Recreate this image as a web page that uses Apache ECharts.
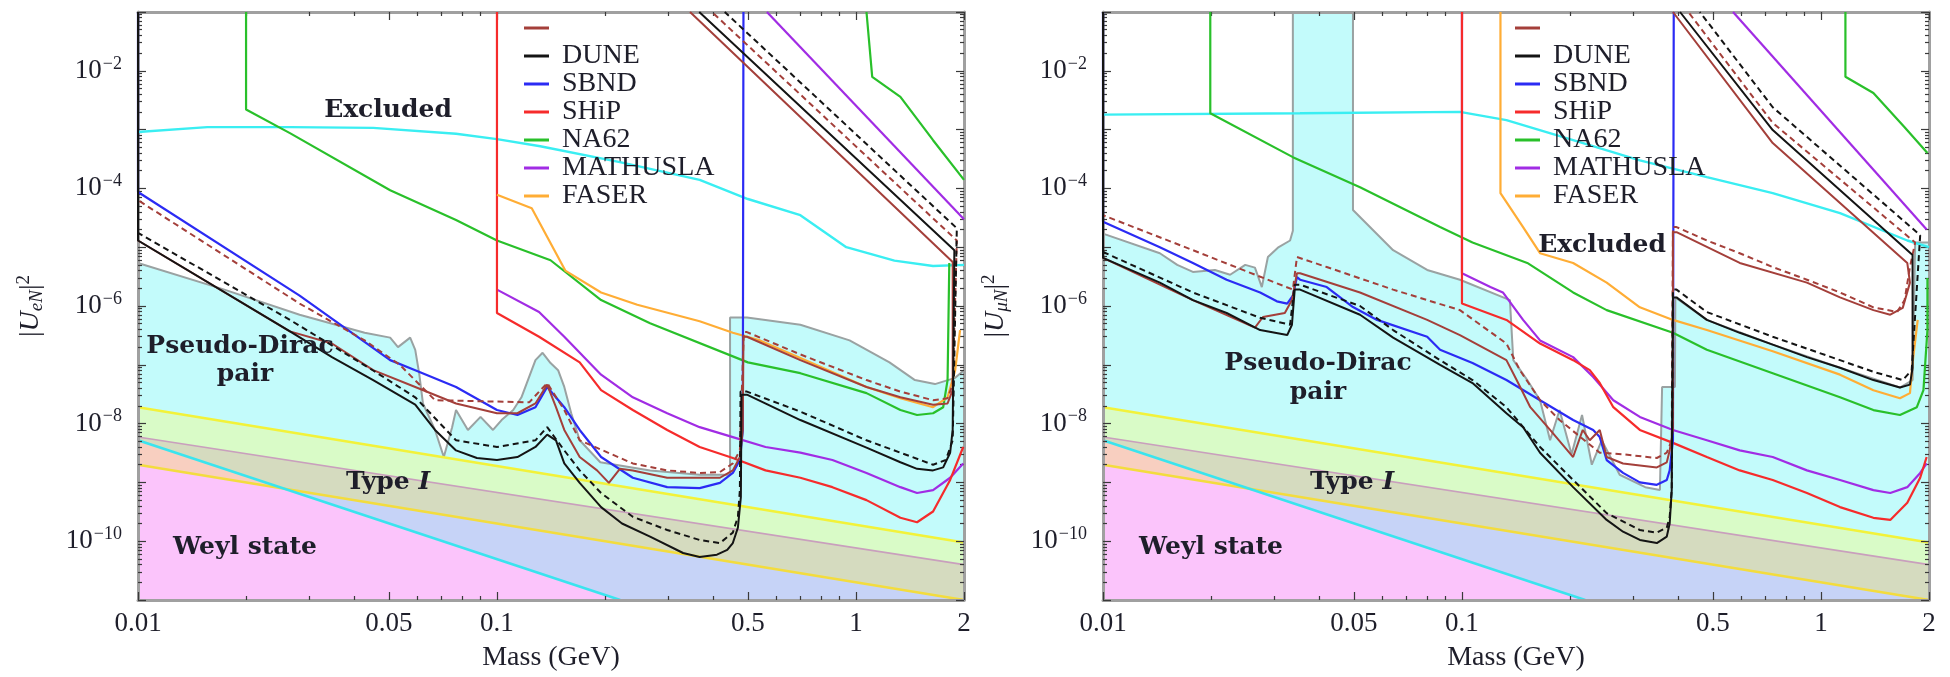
<!DOCTYPE html>
<html><head><meta charset="utf-8">
<script src="https://cdn.jsdelivr.net/npm/echarts@6/dist/echarts.min.js"></script>
<style>html,body{margin:0;padding:0;background:#fff;}#c{width:1950px;height:677px;}</style>
</head><body><div id="c"></div>
<script>
// ---------- tick labels ----------
const xTickValues = [0.01, 0.05, 0.1, 0.5, 1, 2];
const xTickLabels = ['0.01', '0.05', '0.1', '0.5', '1', '2'];
const xMinorValues = [0.02,0.03,0.04,0.06,0.07,0.08,0.09,0.2,0.3,0.4,0.6,0.7,0.8,0.9];
const yLabelExponents = [-10, -8, -6, -4, -2];
const yDecadeExponents = [-11,-10,-9,-8,-7,-6,-5,-4,-3,-2,-1];
const legendNames = ['DUNE2', 'DUNE', 'SBND', 'SHiP', 'NA62', 'MATHUSLA', 'FASER'];

// ---------- theory bands (same in both panels) ----------
const typeIUpper = [[0.01, 1.9e-8], [2, 9.5e-11]];
const typeIMid = [[0.01, 5.9e-9], [2, 4e-11]];
const typeILower = [[0.01, 2e-9], [2, 1e-11]];
const weylLine = [[0.01, 5.2e-9], [0.2205, 1e-11]];
const weylRegion = [[0.01, 2e-9], [0.0247, 8.3e-10], [0.2205, 1e-11]];

// ---------- left panel |U_eN|^2 ----------
const L_grey = [[0.01,5.4e-6],[0.0174,1.9e-6],[0.0282,7.1e-7],[0.0428,3.5e-7],[0.0504,2.9e-7],[0.053,2e-7],[0.0573,2.9e-7],[0.0592,1.8e-7],[0.0607,7.2e-8],[0.0622,2.2e-8],[0.0672,7.8e-9],[0.0711,2.7e-9],[0.075,8.7e-9],[0.0769,1.7e-8],[0.083,7.8e-9],[0.09,1.3e-8],[0.0975,7.8e-9],[0.103,1.15e-8],[0.111,1.7e-8],[0.117,2.8e-8],[0.128,1.2e-7],[0.134,1.6e-7],[0.141,1.07e-7],[0.148,8.1e-8],[0.154,4.2e-8],[0.161,1.5e-8],[0.170,5.2e-9],[0.194,2.2e-9],[0.267,1.6e-9],[0.367,1.35e-9],[0.446,1.35e-9],[0.446,6.4e-7],[0.497,6.4e-7],[0.70,4.8e-7],[0.96,2.6e-7],[1.24,1.1e-7],[1.46,5.5e-8],[1.66,4.7e-8],[1.89,6e-8],[2,8.1e-8]];
const L_SBND = [[0.01,0.1],[0.01,8.7e-5],[0.0282,1.5e-6],[0.0504,1.2e-7],[0.0592,8.1e-8],[0.0769,4.2e-8],[0.1,1.7e-8],[0.114,1.4e-8],[0.128,1.9e-8],[0.138,4.2e-8],[0.154,1.9e-8],[0.170,7.8e-9],[0.195,2.7e-9],[0.239,1.2e-9],[0.298,8.3e-10],[0.367,8e-10],[0.418,9.8e-10],[0.454,1.45e-9],[0.475,2.4e-9],[0.484,7.8e-9],[0.486,0.1]];
const L_DUNE_black = [[0.01,0.1],[0.01,1.3e-5],[0.0265,3.7e-7],[0.0347,1.35e-7],[0.0452,5.5e-8],[0.0592,2.1e-8],[0.0672,7.8e-9],[0.0769,3.5e-9],[0.0879,2.6e-9],[0.1,2.4e-9],[0.114,2.7e-9],[0.128,4e-9],[0.138,6.5e-9],[0.146,5.2e-9],[0.154,2.1e-9],[0.170,9.8e-10],[0.195,3.8e-10],[0.223,2e-10],[0.267,1.2e-10],[0.33,6.3e-11],[0.367,5.4e-11],[0.41,5.9e-11],[0.438,7.1e-11],[0.454,9.3e-11],[0.469,1.7e-10],[0.478,5.6e-10],[0.48,3.1e-8],[0.497,3.1e-8],[0.70,1.15e-8],[1.07,3.9e-9],[1.33,2.2e-9],[1.48,1.7e-9],[1.64,1.6e-9],[1.75,1.8e-9],[1.83,3.2e-9],[1.86,7.8e-9],[1.88,8.9e-6],[0.366,0.1]];
const L_DUNE_blackDash = [[0.01,0.1],[0.01,1.75e-5],[0.0265,5.8e-7],[0.0452,8e-8],[0.0592,2.8e-8],[0.0769,5.2e-9],[0.1,4e-9],[0.128,5.2e-9],[0.138,8.7e-9],[0.154,3.5e-9],[0.170,1.6e-9],[0.195,6.6e-10],[0.239,2.6e-10],[0.298,1.55e-10],[0.367,1.05e-10],[0.418,9.3e-11],[0.454,1.4e-10],[0.469,2.6e-10],[0.475,7.4e-10],[0.477,3.5e-8],[0.497,3.5e-8],[0.70,1.6e-8],[1.07,5.2e-9],[1.33,3.2e-9],[1.64,2e-9],[1.78,2.4e-9],[1.86,5.2e-9],[1.91,2.1e-5],[0.431,0.1]];
const L_DUNE_brown = [[0.01,0.1],[0.01,1.3e-5],[0.0265,3.7e-7],[0.0347,2.3e-7],[0.0452,8.1e-8],[0.0592,4.2e-8],[0.0769,2.2e-8],[0.1,1.5e-8],[0.114,1.5e-8],[0.128,2.2e-8],[0.138,4.6e-8],[0.146,1.9e-8],[0.154,7.8e-9],[0.170,2.7e-9],[0.190,1.6e-9],[0.205,9.8e-10],[0.22,1.7e-9],[0.239,1.6e-9],[0.298,1.2e-9],[0.367,1.2e-9],[0.418,1.2e-9],[0.454,1.6e-9],[0.475,2.7e-9],[0.484,7.8e-9],[0.486,3e-7],[0.497,3e-7],[0.70,1.2e-7],[1.07,4.2e-8],[1.33,2.8e-8],[1.64,2.1e-8],[1.80,2.2e-8],[1.86,3.7e-8],[1.86,5.6e-6],[0.345,0.1]];
const L_DUNE_brownDash = [[0.01,0.1],[0.01,6.3e-5],[0.0282,1.1e-6],[0.0428,2.6e-7],[0.0536,1e-7],[0.0672,2.5e-8],[0.123,2.3e-8],[0.138,4.9e-8],[0.154,1.7e-8],[0.170,5.2e-9],[0.239,2.1e-9],[0.298,1.6e-9],[0.367,1.45e-9],[0.418,1.5e-9],[0.454,2.1e-9],[0.475,3.5e-9],[0.487,3.6e-7],[0.497,3.6e-7],[0.70,1.5e-7],[1.07,5.5e-8],[1.33,3.5e-8],[1.64,2.5e-8],[1.80,2.7e-8],[1.86,4.6e-8],[1.91,1.3e-5],[0.397,0.1]];
const L_FASER = [[0.1,7.8e-5],[0.125,4.6e-5],[0.155,4e-6],[0.195,1.7e-6],[0.246,1.05e-6],[0.367,5.5e-7],[0.454,3.5e-7],[0.54,2.6e-7],[0.70,1.3e-7],[1.07,4.2e-8],[1.33,2.7e-8],[1.64,1.9e-8],[1.80,2.8e-8],[1.89,8.1e-8],[1.95,3.9e-7]];
const L_NA62 = [[0.02,0.1],[0.02,2.2e-3],[0.0265,8.7e-4],[0.0504,9.3e-5],[0.0769,2.9e-5],[0.1,1.3e-5],[0.141,6e-6],[0.195,1.26e-6],[0.267,5.1e-7],[0.50,1.1e-7],[0.70,7.2e-8],[1.07,3.3e-8],[1.33,1.7e-8],[1.48,1.4e-8],[1.64,1.5e-8],[1.75,1.9e-8],[1.80,5.5e-8],[1.82,5.4e-6]];
const L_NA62_upper = [[1.07,0.1],[1.11,7.9e-3],[1.33,3.6e-3],[1.64,6.6e-4],[2,1.4e-4]];
const L_SHiP = [[0.1,0.1],[0.1,7.6e-7],[0.131,3e-7],[0.170,1.1e-7],[0.195,3.7e-8],[0.239,1.7e-8],[0.298,7.8e-9],[0.367,4e-9],[0.454,2.6e-9],[0.56,1.6e-9],[0.70,1.2e-9],[0.86,8.3e-10],[1.07,5e-10],[1.33,2.5e-10],[1.48,2.1e-10],[1.64,3.2e-10],[1.83,1.1e-9],[1.99,4e-9]];
const L_MATHUSLA = [[0.1,1.9e-6],[0.131,7.9e-7],[0.154,3e-7],[0.195,6.8e-8],[0.239,2.8e-8],[0.298,1.5e-8],[0.367,8.7e-9],[0.454,5.9e-9],[0.56,4e-9],[0.70,3.2e-9],[0.86,2.4e-9],[1.07,1.45e-9],[1.33,8.3e-10],[1.48,6.6e-10],[1.64,7.4e-10],[1.83,1.2e-9],[1.99,2.1e-9]];
const L_MATHUSLA_upper = [[0.565,0.1],[2,3e-5]];
const L_BBN = [[0.01,9.1e-4],[0.0156,1.1e-3],[0.0265,1.1e-3],[0.0452,1.07e-3],[0.0769,8.5e-4],[0.1,6.9e-4],[0.132,5.2e-4],[0.22,2.8e-4],[0.367,1.4e-4],[0.5,6.6e-5],[0.7,3.5e-5],[0.94,1e-5],[1.28,5.9e-6],[1.64,4.8e-6],[2,5e-6]];

// ---------- right panel |U_muN|^2 ----------
const R_grey = [[0.01,1.7e-5],[0.0144,7.9e-6],[0.0161,5e-6],[0.0178,3.8e-6],[0.0205,4.1e-6],[0.0226,3.4e-6],[0.0249,5e-6],[0.0265,4.5e-6],[0.0277,2.1e-6],[0.0288,6.8e-6],[0.0307,9.8e-6],[0.0332,1.3e-5],[0.0338,1.9e-5],[0.0338,0.1],[0.0497,0.1],[0.0497,4.3e-5],[0.0643,8.9e-6],[0.080,4.1e-6],[0.0987,2.8e-6],[0.136,1.26e-6],[0.139,1.2e-7],[0.152,5.5e-8],[0.165,2.5e-8],[0.176,5.2e-9],[0.187,1.7e-8],[0.202,3e-9],[0.216,1.4e-8],[0.23,2e-9],[0.245,5.2e-9],[0.275,1.35e-9],[0.324,8.3e-10],[0.356,7.4e-10],[0.361,4.2e-8],[0.392,4.2e-8],[0.393,1.4e-6],[0.481,5.8e-7],[0.734,2.2e-7],[1.13,8.9e-8],[1.66,4.1e-8],[1.80,5.5e-8],[1.83,1.2e-5],[2,1.2e-5]];
const R_SBND = [[0.01,0.1],[0.01,2.7e-5],[0.0144,1e-5],[0.0178,5.4e-6],[0.0221,2.8e-6],[0.0274,1.7e-6],[0.0305,1.2e-6],[0.0326,1.1e-6],[0.0338,1.5e-6],[0.0347,3.1e-6],[0.0354,2.8e-6],[0.042,2.1e-6],[0.0497,9.6e-7],[0.058,5.8e-7],[0.080,3e-7],[0.0869,1.8e-7],[0.107,1.07e-7],[0.133,5.5e-8],[0.165,2.5e-8],[0.204,1.15e-8],[0.232,7.8e-9],[0.242,5.9e-9],[0.253,2.4e-9],[0.281,1.45e-9],[0.313,1e-9],[0.349,9.1e-10],[0.372,1.1e-9],[0.379,1.6e-9],[0.387,5.2e-9],[0.389,0.1]];
const R_DUNE_black = [[0.01,0.1],[0.01,6.6e-6],[0.0144,2.5e-6],[0.0178,1.26e-6],[0.0221,7.6e-7],[0.0274,3.9e-7],[0.0326,3.2e-7],[0.0336,4.8e-7],[0.0342,1.9e-6],[0.0354,1.9e-6],[0.052,7.1e-7],[0.0643,2.9e-7],[0.0869,1e-7],[0.107,4.9e-8],[0.133,1.5e-8],[0.148,8.7e-9],[0.165,3.2e-9],[0.204,8.3e-10],[0.253,2.3e-10],[0.281,1.45e-10],[0.313,1.05e-10],[0.349,9.3e-11],[0.372,1.2e-10],[0.379,2e-10],[0.384,7.4e-10],[0.387,1.4e-6],[0.396,1.4e-6],[0.481,5.8e-7],[0.594,3.5e-7],[0.734,2.2e-7],[0.914,1.35e-7],[1.13,8.9e-8],[1.40,5.5e-8],[1.66,4.1e-8],[1.77,4.6e-8],[1.80,8.9e-8],[1.80,7.4e-6],[0.734,9.8e-4],[0.405,0.1]];
const R_DUNE_blackDash = [[0.01,0.1],[0.01,8.3e-6],[0.0178,1.7e-6],[0.0274,6.3e-7],[0.0332,4.8e-7],[0.0342,2.3e-6],[0.0354,2.3e-6],[0.052,1e-6],[0.0643,3.9e-7],[0.0869,1.2e-7],[0.107,5.5e-8],[0.133,1.9e-8],[0.165,4e-9],[0.204,1.1e-9],[0.253,3e-10],[0.313,1.55e-10],[0.349,1.4e-10],[0.372,1.7e-10],[0.379,2.6e-10],[0.384,7.4e-10],[0.387,1.9e-6],[0.396,1.9e-6],[0.481,7.9e-7],[0.734,3e-7],[1.13,1.2e-7],[1.40,7.6e-8],[1.69,5.5e-8],[1.79,8.1e-8],[1.89,1.6e-5],[0.734,2.4e-3],[0.46,0.1]];
const R_DUNE_brown = [[0.01,0.1],[0.01,6.6e-6],[0.0178,1.26e-6],[0.0265,4.3e-7],[0.0279,6.5e-7],[0.0321,7.6e-7],[0.0336,1.26e-6],[0.0347,3.6e-6],[0.0354,3.6e-6],[0.052,1.7e-6],[0.080,5.8e-7],[0.0987,3.2e-7],[0.133,1.2e-7],[0.142,5.5e-8],[0.155,1.9e-8],[0.176,7.8e-9],[0.204,2.7e-9],[0.217,7.8e-9],[0.227,5.2e-9],[0.242,7.8e-9],[0.253,2.7e-9],[0.281,2.1e-9],[0.349,1.8e-9],[0.372,2.2e-9],[0.379,3.5e-9],[0.387,7.8e-9],[0.387,1.8e-5],[0.396,1.8e-5],[0.594,5.4e-6],[0.914,2.5e-6],[1.13,1.4e-6],[1.40,8.5e-7],[1.56,7.1e-7],[1.69,9.3e-7],[1.77,2.5e-6],[1.74,5.4e-6],[0.734,5.9e-4],[0.387,0.1]];
const R_DUNE_brownDash = [[0.01,0.1],[0.01,3.5e-5],[0.0178,8.9e-6],[0.0338,1.9e-6],[0.0347,6.8e-6],[0.042,4.6e-6],[0.0643,1.9e-6],[0.0987,8.5e-7],[0.133,2.3e-7],[0.145,8.1e-8],[0.165,2.5e-8],[0.187,1.15e-8],[0.242,3.2e-9],[0.281,3e-9],[0.349,2.6e-9],[0.372,3.2e-9],[0.384,5.2e-9],[0.387,2.2e-5],[0.396,2.2e-5],[0.481,1.3e-5],[0.594,7.9e-6],[0.734,4.6e-6],[0.914,2.8e-6],[1.13,1.7e-6],[1.40,9.5e-7],[1.63,7.9e-7],[1.71,1.26e-6],[1.77,4.6e-6],[1.83,1.2e-5],[0.734,1.3e-3],[0.427,0.1]];
const R_FASER = [[0.128,0.1],[0.128,8.3e-5],[0.148,2.2e-5],[0.165,7.9e-6],[0.204,5.4e-6],[0.253,2.5e-6],[0.313,9.5e-7],[0.387,5.8e-7],[0.481,3.9e-7],[0.734,1.7e-7],[1.13,6.8e-8],[1.40,3.7e-8],[1.66,2.7e-8],[1.77,3.3e-8],[1.80,1.07e-7],[1.86,5.8e-7]];
const R_NA62 = [[0.0199,0.1],[0.0199,1.9e-3],[0.0338,3.4e-4],[0.052,1.05e-4],[0.0869,2.2e-5],[0.107,1.2e-5],[0.152,5.4e-6],[0.204,1.7e-6],[0.253,8.5e-7],[0.387,3.5e-7],[0.481,1.8e-7],[0.734,7.2e-8],[1.13,2.8e-8],[1.40,1.7e-8],[1.66,1.4e-8],[1.85,1.9e-8],[1.93,3.7e-8],[1.98,3.9e-7],[1.98,3e-6]];
const R_NA62_upper = [[1.17,0.1],[1.17,7.9e-3],[1.40,4.2e-3],[1.71,1.1e-3],[1.98,4e-4]];
const R_SHiP = [[0.1,0.1],[0.1,1.1e-6],[0.133,5.8e-7],[0.165,2.3e-7],[0.204,1.2e-7],[0.227,8.1e-8],[0.242,4.9e-8],[0.264,1.9e-8],[0.313,7.8e-9],[0.387,4.7e-9],[0.481,2.7e-9],[0.594,1.6e-9],[0.734,1.1e-9],[0.914,6.6e-10],[1.13,3.8e-10],[1.40,2.5e-10],[1.56,2.3e-10],[1.74,4.5e-10],[1.89,1.2e-9],[1.97,2.7e-9]];
const R_MATHUSLA = [[0.1,0.1],[0.1,3.6e-6],[0.12,2.1e-6],[0.13,1.7e-6],[0.148,5.8e-7],[0.165,2.6e-7],[0.204,1.35e-7],[0.232,6.2e-8],[0.264,2.5e-8],[0.313,1.3e-8],[0.387,7.8e-9],[0.481,5.2e-9],[0.594,3.5e-9],[0.734,2.7e-9],[0.914,1.6e-9],[1.13,1.1e-9],[1.40,7.4e-10],[1.56,6.6e-10],[1.74,8.3e-10],[1.89,1.45e-9],[1.97,2.1e-9]];
const R_MATHUSLA_upper = [[0.569,0.1],[1.97,2e-5]];
const R_BBN = [[0.01,1.8e-3],[0.0354,1.9e-3],[0.0987,2e-3],[0.133,1.45e-3],[0.204,6.6e-4],[0.313,3e-4],[0.481,1.55e-4],[0.734,8.3e-5],[1.13,3.8e-5],[1.74,1.3e-5],[2,1e-5]];

// ---------- styles ----------
const C = {
  black:'#141414', brown:'#a43f3a', blue:'#2b2bf4', red:'#f62b2b', green:'#29c02a',
  purple:'#a12ce4', orange:'#ffad35', bbn:'#3aeef2', grey:'#9aa2a2',
  fillCyan:'#c3fbfb', fillGreen:'#d9fbc7', fillKhaki:'#d5dbbf', fillLav:'#c6d3f7',
  fillSalmon:'#f8cfc0', fillPink:'#fbc4fb', yel:'#f2f23a', yel2:'#f3dc3e', mauve:'#c99fbd', weyl:'#3ae4ee'
};
const SERIF = 'Liberation Serif';
const BOLDSERIF = 'DejaVu Serif';
const TXT = '#1e1e2a';
const LOG2 = Math.log10(2);

function line(p, name, data, color, width, dash, z) {
  return {
    type:'line', name: name, xAxisIndex: p*5, yAxisIndex: p*5, data: data,
    color: color, showSymbol:false, symbol:'none', silent:true, z: z || 4,
    lineStyle:{color: color, width: width || 2.2, type: dash ? [6,4] : 'solid'},
    emphasis:{disabled:true}
  };
}
function fill(p, data, color, lineColor, lineWidth) {
  return {
    type:'line', xAxisIndex: p*5, yAxisIndex: p*5, data: data, showSymbol:false, symbol:'none',
    silent:true, z:1, color: color,
    lineStyle:{width: lineWidth || 0, color: lineColor || color},
    areaStyle:{color: color, opacity:1, origin:'start'}, emphasis:{disabled:true}
  };
}

function panelSeries(p, d) {
  return [
    fill(p, d.grey, C.fillCyan, C.grey, 2),
    fill(p, typeIUpper, C.fillGreen),
    fill(p, typeIMid, C.fillKhaki),
    fill(p, typeILower, C.fillLav),
    fill(p, weylLine, C.fillSalmon),
    fill(p, weylRegion, C.fillPink),
    line(p, 'typeIUpper', typeIUpper, C.yel, 2.5, false, 2),
    line(p, 'typeIMid', typeIMid, C.mauve, 1.6, false, 2),
    line(p, 'typeILower', typeILower, C.yel2, 2.5, false, 2),
    line(p, 'weyl', weylLine, C.weyl, 2.5, false, 2),
    line(p, 'BBN', d.bbn, C.bbn, 2.4),
    line(p, 'NA62', d.na62, C.green),
    line(p, 'NA62', d.na62u, C.green),
    line(p, 'MATHUSLA', d.math, C.purple),
    line(p, 'MATHUSLA', d.mathu, C.purple),
    line(p, 'SHiP', d.ship, C.red),
    line(p, 'FASER', d.faser, C.orange),
    line(p, 'SBND', d.sbnd, C.blue),
    line(p, 'DUNE2', d.brown, C.brown, 2),
    line(p, 'DUNE2', d.brownDash, C.brown, 2, true),
    line(p, 'DUNE', d.black, C.black, 2),
    line(p, 'DUNE', d.blackDash, C.black, 2, true)
  ];
}

const xMajExp = xTickValues.map(v => Math.log10(v));
const xMinExp = xMinorValues.map(v => Math.log10(v));
const yMinExp = [];
for (let e = -11; e < -1; e++) for (let k = 2; k <= 9; k++) yMinExp.push(e + Math.log10(k));

function xLabel(v) {
  const i = xMajExp.findIndex(e => Math.abs(e - v) < 1e-6);
  return i >= 0 ? xTickLabels[i] : '';
}
function yLabel(v) {
  return '{b|10}{s|\u2212' + Math.abs(Math.round(v)) + '}';
}
const frame = {show:true, onZero:false, lineStyle:{color:'#a0a0a0', width:3}};
const noLine = {show:false, onZero:false};
const tickStyle = {color:'#3a3a3a', width:1.2};

function xAxesFor(p) {
  const base = {type:'value', gridIndex:p, min:-2, max:LOG2, splitLine:{show:false}, z:3};
  return [
    {type:'log', logBase:10, gridIndex:p, min:0.01, max:2, show:false},
    Object.assign({}, base, {position:'bottom', axisLine:frame,
      axisTick:{show:true, inside:true, length:8, customValues:xMajExp, lineStyle:tickStyle},
      axisLabel:{show:true, customValues:xMajExp, formatter:xLabel, margin:10, fontFamily:SERIF, fontSize:27, color:TXT},
      name:'Mass (GeV)', nameLocation:'middle', nameGap:44,
      nameTextStyle:{fontFamily:SERIF, fontSize:28, color:TXT}}),
    Object.assign({}, base, {position:'bottom', axisLine:noLine,
      axisTick:{show:true, inside:true, length:4, customValues:xMinExp, lineStyle:tickStyle},
      axisLabel:{show:false}}),
    Object.assign({}, base, {position:'top', axisLine:frame,
      axisTick:{show:true, inside:true, length:8, customValues:xMajExp, lineStyle:tickStyle},
      axisLabel:{show:false}}),
    Object.assign({}, base, {position:'top', axisLine:noLine,
      axisTick:{show:true, inside:true, length:4, customValues:xMinExp, lineStyle:tickStyle},
      axisLabel:{show:false}})
  ];
}
function yAxesFor(p, sub) {
  const base = {type:'value', gridIndex:p, min:-11, max:-1, splitLine:{show:false}, z:3};
  return [
    {type:'log', logBase:10, gridIndex:p, min:1e-11, max:0.1, show:false},
    Object.assign({}, base, {position:'left', axisLine:frame,
      axisTick:{show:true, inside:true, length:8, customValues:yDecadeExponents, lineStyle:tickStyle},
      axisLabel:{show:true, customValues:yLabelExponents, formatter:yLabel, margin:16, fontFamily:SERIF,
        rich:{b:{fontFamily:SERIF, fontSize:27, color:TXT}, s:{fontFamily:SERIF, fontSize:18, color:TXT, padding:[0,0,14,1]}}},
      name:'|{i|U}{sub|' + sub + '}|{sup|2}', nameLocation:'middle', nameRotate:90, nameGap:92,
      nameTextStyle:{fontFamily:SERIF, fontSize:28, color:TXT,
        rich:{i:{fontFamily:SERIF, fontSize:28, fontStyle:'italic', color:TXT},
              sub:{fontFamily:SERIF, fontSize:19, fontStyle:'italic', color:TXT, padding:[12,0,0,0]},
              sup:{fontFamily:SERIF, fontSize:19, color:TXT, padding:[0,0,12,0]}}}}),
    Object.assign({}, base, {position:'left', axisLine:noLine,
      axisTick:{show:true, inside:true, length:4, customValues:yMinExp, lineStyle:tickStyle},
      axisLabel:{show:false}}),
    Object.assign({}, base, {position:'right', axisLine:frame,
      axisTick:{show:true, inside:true, length:8, customValues:yDecadeExponents, lineStyle:tickStyle},
      axisLabel:{show:false}}),
    Object.assign({}, base, {position:'right', axisLine:noLine,
      axisTick:{show:true, inside:true, length:4, customValues:yMinExp, lineStyle:tickStyle},
      axisLabel:{show:false}})
  ];
}

function legendFor(left) {
  return {
    data: legendNames, orient:'vertical', left:left, top:14, itemWidth:25, itemHeight:3, itemGap:0,
    icon:'rect', padding:0, selectedMode:false, z:6,
    formatter: n => (n === 'DUNE2' ? ' ' : n),
    textStyle:{fontFamily:SERIF, fontSize:28, lineHeight:27, color:TXT, padding:[0,0,0,8]}
  };
}

function txt(x, y, t, rich) {
  const st = {text:t, font:'bold 25px ' + BOLDSERIF, fill:TXT, align:'center', verticalAlign:'middle'};
  if (rich) st.rich = rich;
  return {type:'text', x:x, y:y, z:100, style:st};
}
const richI = {i:{fontFamily:BOLDSERIF, fontSize:25, fontWeight:'bold', fontStyle:'italic', fill:TXT, color:TXT}};

const leftData = {grey:L_grey, bbn:L_BBN, na62:L_NA62, na62u:L_NA62_upper, math:L_MATHUSLA, mathu:L_MATHUSLA_upper,
  ship:L_SHiP, faser:L_FASER, sbnd:L_SBND, brown:L_DUNE_brown, brownDash:L_DUNE_brownDash, black:L_DUNE_black, blackDash:L_DUNE_blackDash};
const rightData = {grey:R_grey, bbn:R_BBN, na62:R_NA62, na62u:R_NA62_upper, math:R_MATHUSLA, mathu:R_MATHUSLA_upper,
  ship:R_SHiP, faser:R_FASER, sbnd:R_SBND, brown:R_DUNE_brown, brownDash:R_DUNE_brownDash, black:R_DUNE_black, blackDash:R_DUNE_blackDash};

const chart = echarts.init(document.getElementById('c'), null, {renderer:'canvas'});
chart.setOption({
  animation:false,
  backgroundColor:'#ffffff',
  textStyle:{fontFamily:SERIF},
  grid:[
    {left:138, top:12, width:826, height:588},
    {left:1103, top:12, width:826, height:588}
  ],
  xAxis: xAxesFor(0).concat(xAxesFor(1)),
  yAxis: yAxesFor(0, 'eN').concat(yAxesFor(1, '\u03bcN')),
  legend:[legendFor(524), legendFor(1515)],
  series: panelSeries(0, leftData).concat(panelSeries(1, rightData)),
  graphic:[
    txt(388, 110, 'Excluded'), txt(240, 346, 'Pseudo-Dirac'), txt(245, 374, 'pair'),
    txt(388, 482, 'Type {i|I}', richI), txt(245, 547, 'Weyl state'),
    txt(1602, 245, 'Excluded'), txt(1318, 363, 'Pseudo-Dirac'), txt(1318, 392, 'pair'),
    txt(1352, 482, 'Type {i|I}', richI), txt(1211, 547, 'Weyl state')
  ]
});
</script></body></html>
